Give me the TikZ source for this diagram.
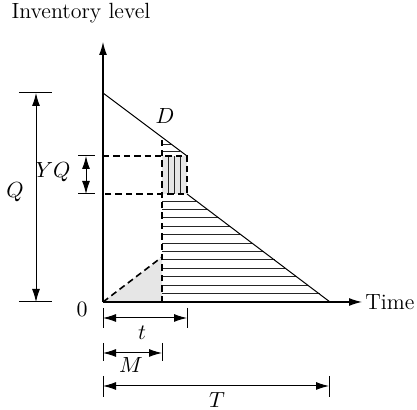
\documentclass[tikz,border=0pt]{standalone}
\usetikzlibrary{positioning,arrows.meta,calc}
\definecolor{shadeGray}{HTML}{E6E6E6}
\tikzset{
    axisline/.style={-{Latex[length=6.5pt,width=4pt]},line width=0.6pt},
    demandline/.style={line width=0.5pt},
    dashedge/.style={dashed,dash pattern=on 3.2pt off 2pt,line width=0.8pt},
    hatch/.style={line width=0.4pt,draw=black!85},
    dimarrow/.style={{Latex[length=6.5pt,width=4pt]}-{Latex[length=6.5pt,width=4pt]},line width=0.5pt},
    dimtick/.style={line width=0.5pt},
    lbl/.style={inner sep=1pt,font=\fontsize{11}{13}\selectfont}
}

\begin{document}
\begin{tikzpicture}[x=0.5pt,y=0.5pt,node distance=2pt]
    \useasboundingbox (-103,-108) rectangle (314,302);
    % key points
    \coordinate (O) at (0,0);
    \coordinate (ytop) at (0,260);
    \coordinate (xend) at (259,0);
    \coordinate (Qtop) at (0,209);
    \coordinate (Mtop) at (59,164.75);
    \coordinate (Mup) at (59,146);
    \coordinate (Mlow) at (59,108);
    \coordinate (Mtri) at (59,45);
    \coordinate (Mbase) at (59,0);
    \coordinate (Dtop) at (84,146);
    \coordinate (Dbot) at (84,108);
    \coordinate (YQtop) at (0,146);
    \coordinate (YQbot) at (0,108);
    \coordinate (Tend) at (227,0);
    % shaded areas
    \fill[shadeGray] (O) -- (Mtri) -- (Mbase) -- cycle;
    \fill[shadeGray] (Mlow) rectangle (Dtop);
    % hatching
    \foreach \y in {8.5,16.9,...,102} {
        \draw[hatch] (59,\y) -- ({84+(108-\y)/0.75},\y);
    }
    \foreach \y in {151,158} {
        \draw[hatch] (59,\y) -- ({(209-\y)/0.75},\y);
    }
    \foreach \x in {65,71,77} {
        \draw[hatch] (\x,108) -- (\x,146);
    }
    % dashed edges
    \draw[dashedge] (O) -- (Mtri);
    \draw[dashedge] (Mbase) -- (Mtop);
    \draw[dashedge] (YQtop) -- (Dtop) -- (Dbot) -- (YQbot);
    % stock lines
    \draw[demandline] (Qtop) -- (Dtop);
    \draw[demandline] (Dbot) -- (Tend);
    % axes
    \draw[axisline] (O) -- (ytop);
    \draw[axisline] (O) -- (xend);
    % Q dimension
    \coordinate (qhi) at (-67,209);
    \coordinate (qlo) at (-67,0);
    \draw[dimtick] (-84,209) -- (-51,209);
    \draw[dimtick] (-84,0) -- (-51,0);
    \draw[dimarrow] (qlo) -- (qhi);
    % YQ dimension
    \coordinate (yqhi) at (-17,146);
    \coordinate (yqlo) at (-17,108);
    \draw[dimtick] (-25,146) -- (-8,146);
    \draw[dimtick] (-25,108) -- (-8,108);
    \draw[dimarrow] (yqlo) -- (yqhi);
    % t, M, T dimensions
    \coordinate (ta) at (0,-16);
    \coordinate (tb) at (84,-16);
    \coordinate (ma) at (0,-51);
    \coordinate (mb) at (59,-51);
    \coordinate (Ta) at (0,-84);
    \coordinate (Tb) at (226,-84);
    \draw[dimtick] (0,-6) -- (0,-26);
    \draw[dimtick] (84,-6) -- (84,-26);
    \draw[dimtick] (0,-41) -- (0,-59);
    \draw[dimtick] (59,-41) -- (59,-59);
    \draw[dimtick] (0,-74) -- (0,-95);
    \draw[dimtick] (226,-74) -- (226,-95);
    \draw[dimarrow] (ta) -- (tb);
    \draw[dimarrow] (ma) -- (mb);
    \draw[dimarrow] (Ta) -- (Tb);
    % labels
    \node[lbl] (invlabel) at (-22,289) {Inventory level};
    \node[lbl,inner sep=0pt,right=1.5pt of xend] (timelabel) {Time};
    \node[lbl] (zerolabel) at (-21,-7) {$0$};
    \node[lbl] (Qlabel) at (-88,110) {$Q$};
    \node[lbl] (YQlabel) at (-50,130) {$YQ$};
    \node[lbl] (Dlabel) at (62,186) {$D$};
    \node[lbl] (tlabel) at (39,-31) {$t$};
    \node[lbl] (Mlabel) at (28,-63) {$M$};
    \node[lbl] (Tlabel) at (114,-98) {$T$};
\end{tikzpicture}
\end{document}
